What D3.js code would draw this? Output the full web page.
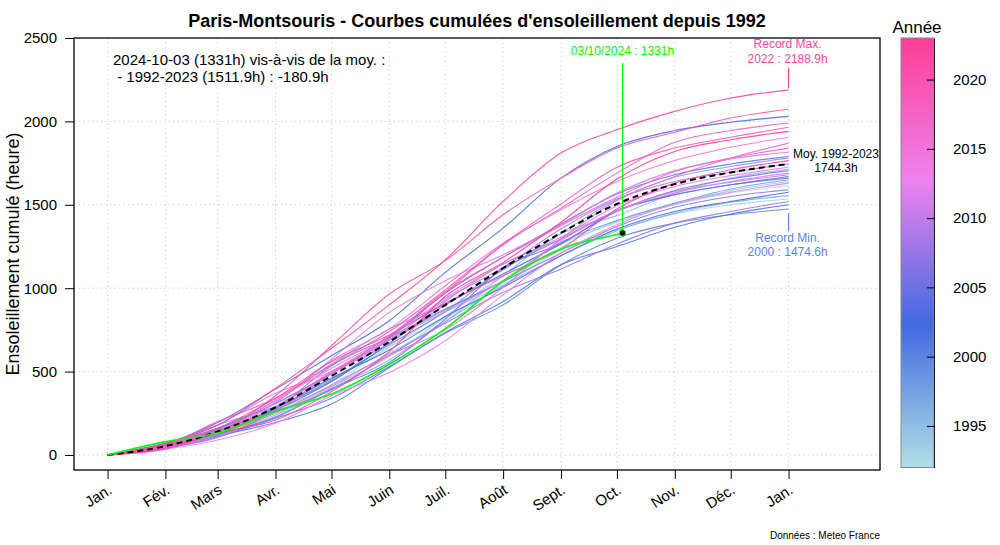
<!DOCTYPE html>
<html>
<head>
<meta charset="utf-8">
<script src="https://cdn.jsdelivr.net/npm/d3@7"></script>
<style>
  body { margin: 0; background: #fff; }
  svg { font-family: "Liberation Sans", Arial, Helvetica, sans-serif; }
</style>
</head>
<body>
<div id="chart"></div>
<script>
// years drawn as curves
const years = [1992, 1993, 1994, 1995, 1996, 1997, 1998, 1999, 2000, 2001, 2002,
  2003, 2004, 2005, 2006, 2007, 2008, 2009, 2010, 2011, 2012, 2013, 2014, 2015,
  2016, 2017, 2018, 2019, 2020, 2021, 2022, 2023];

// monthly sunshine hours, Jan..Dec, one row per year (estimated from the curves)
const monthlyHours = [
  [55, 85, 120, 160, 230, 170, 215, 210, 160, 95, 70, 45],
  [60, 95, 150, 150, 190, 210, 165, 210, 120, 95, 55, 35],
  [45, 75, 150, 140, 180, 240, 245, 190, 130, 110, 80, 55],
  [50, 70, 120, 170, 200, 190, 275, 250, 110, 135, 90, 55],
  [40, 80, 110, 170, 170, 230, 215, 180, 150, 105, 65, 40],
  [65, 90, 170, 220, 210, 150, 205, 220, 200, 135, 65, 50],
  [70, 110, 110, 150, 250, 180, 175, 230, 130, 105, 85, 55],
  [55, 85, 140, 170, 210, 200, 255, 180, 170, 95, 60, 40],
  [40, 70, 110, 120, 190, 200, 170, 240, 160, 90, 50, 34.6],
  [45, 70, 80, 110, 220, 210, 185, 220, 110, 115, 80, 55],
  [50, 80, 150, 180, 170, 200, 175, 190, 160, 105, 60, 55],
  [65, 130, 200, 200, 210, 290, 265, 300, 190, 95, 50, 35],
  [50, 100, 120, 170, 230, 230, 185, 180, 200, 95, 60, 50],
  [70, 90, 150, 180, 210, 270, 215, 200, 180, 115, 65, 45],
  [55, 70, 100, 170, 160, 260, 305, 150, 190, 125, 70, 50],
  [45, 60, 170, 260, 170, 170, 165, 170, 160, 115, 65, 40],
  [50, 110, 100, 130, 210, 190, 185, 140, 150, 125, 70, 60],
  [55, 75, 160, 200, 200, 240, 195, 230, 180, 105, 55, 50],
  [50, 60, 150, 230, 180, 250, 225, 150, 170, 115, 55, 45],
  [45, 80, 190, 260, 280, 190, 155, 180, 190, 135, 70, 40],
  [60, 120, 190, 130, 190, 170, 185, 240, 180, 105, 70, 50],
  [35, 55, 100, 165, 140, 190, 275, 250, 170, 125, 70, 55],
  [50, 80, 200, 190, 190, 230, 205, 160, 190, 115, 65, 50],
  [60, 85, 170, 250, 190, 260, 255, 200, 170, 125, 80, 60],
  [50, 80, 120, 170, 180, 150, 255, 290, 230, 145, 110, 90],
  [60, 70, 160, 210, 210, 270, 205, 190, 170, 155, 80, 60],
  [35, 110, 120, 220, 230, 260, 285, 220, 210, 185, 70, 45],
  [60, 140, 140, 200, 200, 250, 275, 240, 220, 115, 65, 60],
  [55, 80, 220, 300, 310, 200, 275, 220, 180, 95, 85, 53],
  [60, 100, 180, 220, 160, 190, 165, 160, 240, 155, 80, 55],
  [70, 110, 220, 240, 260, 270, 350, 290, 140, 110, 80, 48.9],
  [40, 90, 80, 170, 240, 330, 205, 240, 260, 165, 70, 50]
];

// 2024 cumulative values (day of year, hours)
const days2024 = [0, 31, 60, 91, 121, 152, 182, 213, 244, 274, 276];
const cum2024 = [0, 80, 135, 265, 370, 550, 765, 1050, 1240, 1325, 1331];

const monthStartDays = [0, 31, 59, 90, 120, 151, 181, 212, 243, 273, 304, 334, 365];
const monthLabels = ["Jan.", "Fév.", "Mars", "Avr.", "Mai", "Juin", "Juil.", "Août",
  "Sept.", "Oct.", "Nov.", "Déc.", "Jan."];
const yTicks = [0, 500, 1000, 1500, 2000, 2500];
const yGrid = [0, 500, 1000, 1500, 2000];
const legendTicks = [1995, 2000, 2005, 2010, 2015, 2020];
const paletteColors = ["#B0E0E6", "#4169E1", "#EE82EE", "#FF3E96"];

const W = 1000, H = 545;
const plot = {left: 74, right: 880, top: 38, bottom: 470};

const svg = d3.select("#chart").append("svg")
  .attr("width", W)
  .attr("height", H);

const x = d3.scaleLinear().domain([-18, 414]).range([plot.left, plot.right]);
const y = d3.scaleLinear().domain([-90, 2500]).range([plot.bottom, plot.top]);

const colorYear = d3.scaleLinear()
  .domain([1992, 1992 + 31 / 3, 1992 + 62 / 3, 2023])
  .range(paletteColors)
  .interpolate(d3.interpolateRgb);

// cumulative series per year
const series = years.map((yr, i) => {
  const pts = [{day: 0, v: 0}];
  let acc = 0;
  monthlyHours[i].forEach((h, m) => {
    acc += h;
    pts.push({day: monthStartDays[m + 1], v: acc});
  });
  return {year: yr, points: pts, total: acc};
});

const meanPoints = monthStartDays.map((d, k) => ({
  day: d,
  v: d3.mean(series, s => s.points[k].v)
}));

// grid
const grid = svg.append("g")
  .attr("stroke", "#d3d3d3")
  .attr("stroke-dasharray", "1.5,3")
  .attr("stroke-width", 1);

grid.selectAll("line.v")
  .data(monthStartDays)
  .enter()
  .append("line")
  .attr("x1", d => x(d)).attr("x2", d => x(d))
  .attr("y1", plot.top).attr("y2", plot.bottom);

grid.selectAll("line.h")
  .data(yGrid)
  .enter()
  .append("line")
  .attr("x1", plot.left).attr("x2", plot.right)
  .attr("y1", d => y(d)).attr("y2", d => y(d));

const line = d3.line()
  .curve(d3.curveMonotoneX)
  .x(d => x(d.day))
  .y(d => y(d.v));

svg.append("g")
  .selectAll("path")
  .data(series)
  .enter()
  .append("path")
  .attr("d", d => line(d.points))
  .attr("fill", "none")
  .attr("stroke", d => colorYear(d.year))
  .attr("stroke-width", 1.1)
  .attr("stroke-opacity", 0.9);

// mean curve
svg.append("path")
  .attr("d", line(meanPoints))
  .attr("fill", "none")
  .attr("stroke", "#000")
  .attr("stroke-width", 2)
  .attr("stroke-dasharray", "6,4");

// 2024
const pts2024 = days2024.map((d, i) => ({day: d, v: cum2024[i]}));
svg.append("path")
  .attr("d", line(pts2024))
  .attr("fill", "none")
  .attr("stroke", "#00ff00")
  .attr("stroke-width", 1.6);

const last = pts2024[pts2024.length - 1];
svg.append("line")
  .attr("x1", x(last.day)).attr("x2", x(last.day))
  .attr("y1", 63).attr("y2", y(last.v))
  .attr("stroke", "#00ff00")
  .attr("stroke-width", 1.2);

svg.append("circle")
  .attr("cx", x(last.day))
  .attr("cy", y(last.v))
  .attr("r", 3.2)
  .attr("fill", "#000")
  .attr("stroke", "#00ff00")
  .attr("stroke-width", 1);

svg.append("text")
  .attr("x", x(last.day)).attr("y", 55)
  .attr("text-anchor", "middle")
  .attr("font-size", 12)
  .attr("fill", "#00ff00")
  .text("03/10/2024 : 1331h");

// record annotations
const maxS = series.reduce((a, b) => (b.total > a.total ? b : a));
const minS = series.reduce((a, b) => (b.total < a.total ? b : a));
const xEnd = x(365);

svg.append("line")
  .attr("x1", xEnd).attr("x2", xEnd)
  .attr("y1", 68).attr("y2", y(maxS.total) - 2)
  .attr("stroke", colorYear(maxS.year)).attr("stroke-width", 1.2);
svg.append("text")
  .attr("x", xEnd - 1).attr("y", 48)
  .attr("text-anchor", "middle").attr("font-size", 12)
  .attr("fill", colorYear(maxS.year))
  .text("Record Max.");
svg.append("text")
  .attr("x", xEnd - 1).attr("y", 63)
  .attr("text-anchor", "middle").attr("font-size", 12)
  .attr("fill", colorYear(maxS.year))
  .text(`${maxS.year} : ${maxS.total.toFixed(1)}h`);

svg.append("line")
  .attr("x1", xEnd).attr("x2", xEnd)
  .attr("y1", y(minS.total) + 4).attr("y2", 231)
  .attr("stroke", colorYear(minS.year)).attr("stroke-width", 1.2);
svg.append("text")
  .attr("x", xEnd - 1).attr("y", 242)
  .attr("text-anchor", "middle").attr("font-size", 12)
  .attr("fill", colorYear(minS.year))
  .text("Record Min.");
svg.append("text")
  .attr("x", xEnd - 1).attr("y", 256)
  .attr("text-anchor", "middle").attr("font-size", 12)
  .attr("fill", colorYear(minS.year))
  .text(`${minS.year} : ${minS.total.toFixed(1)}h`);

svg.append("text")
  .attr("x", 836).attr("y", 158)
  .attr("text-anchor", "middle").attr("font-size", 12)
  .text("Moy. 1992-2023");
svg.append("text")
  .attr("x", 836).attr("y", 172)
  .attr("text-anchor", "middle").attr("font-size", 12)
  .text("1744.3h");

// top-left note
svg.append("text")
  .attr("x", 113).attr("y", 65)
  .attr("font-size", 15)
  .text("2024-10-03 (1331h) vis-à-vis de la moy. :");
svg.append("text")
  .attr("x", 113).attr("y", 82)
  .attr("font-size", 15)
  .attr("xml:space", "preserve")
  .text(" - 1992-2023 (1511.9h) : -180.9h");

// axes
const yAxis = svg.append("g")
  .attr("transform", `translate(${plot.left},0)`)
  .call(d3.axisLeft(y).tickValues(yTicks).tickSize(9).tickPadding(8).tickFormat(d3.format("d")));
yAxis.select(".domain").remove();
yAxis.selectAll("text").attr("font-size", 15).attr("font-family", null).attr("fill", "#000");

const xAxis = svg.append("g")
  .attr("transform", `translate(0,${plot.bottom})`)
  .call(d3.axisBottom(x).tickValues(monthStartDays).tickSize(9).tickFormat((d, i) => monthLabels[i]));
xAxis.select(".domain").remove();
xAxis.selectAll("text")
  .attr("font-size", 15)
  .attr("font-family", null)
  .attr("fill", "#000")
  .attr("text-anchor", "end")
  .attr("x", 0)
  .attr("y", 0)
  .attr("dy", "0.35em")
  .attr("transform", "translate(2,18) rotate(-33)");

// box
svg.append("rect")
  .attr("x", plot.left).attr("y", plot.top)
  .attr("width", plot.right - plot.left)
  .attr("height", plot.bottom - plot.top)
  .attr("fill", "none")
  .attr("stroke", "#000")
  .attr("stroke-width", 1.3);

// title & axis label
svg.append("text")
  .attr("x", (plot.left + plot.right) / 2).attr("y", 27)
  .attr("text-anchor", "middle")
  .attr("font-size", 18).attr("font-weight", "bold")
  .text("Paris-Montsouris - Courbes cumulées d'ensoleillement depuis 1992");

svg.append("text")
  .attr("transform", `translate(19,${(plot.top + plot.bottom) / 2}) rotate(-90)`)
  .attr("text-anchor", "middle")
  .attr("font-size", 18)
  .text("Ensoleillement cumulé (heure)");

svg.append("text")
  .attr("x", plot.right).attr("y", 539)
  .attr("text-anchor", "end")
  .attr("font-size", 10)
  .text("Données : Meteo France");

// colour bar
const cb = {left: 901, right: 934, top: 38, bottom: 467.5};
const cbY = d3.scaleLinear().domain([1992, 2023]).range([cb.bottom, cb.top]);

const defs = svg.append("defs");
const grad = defs.append("linearGradient")
  .attr("id", "yearGrad")
  .attr("x1", 0).attr("x2", 0).attr("y1", 1).attr("y2", 0);
grad.selectAll("stop")
  .data(paletteColors)
  .enter()
  .append("stop")
  .attr("offset", (d, i) => i / (paletteColors.length - 1))
  .attr("stop-color", d => d);

svg.append("rect")
  .attr("x", cb.left).attr("y", cb.top)
  .attr("width", cb.right - cb.left)
  .attr("height", cb.bottom - cb.top)
  .attr("fill", "url(#yearGrad)")
  .attr("stroke", "#888")
  .attr("stroke-width", 1);

const cbAxis = svg.append("g")
  .attr("transform", `translate(${cb.right},0)`)
  .call(d3.axisRight(cbY).tickValues(legendTicks).tickSizeInner(-7).tickSizeOuter(0).tickPadding(19).tickFormat(d3.format("d")));
cbAxis.select(".domain").attr("stroke", "#222");
cbAxis.selectAll("text").attr("font-size", 15).attr("font-family", null).attr("fill", "#000");

svg.append("text")
  .attr("x", 917).attr("y", 33)
  .attr("text-anchor", "middle")
  .attr("font-size", 17)
  .text("Année");
</script>
</body>
</html>
